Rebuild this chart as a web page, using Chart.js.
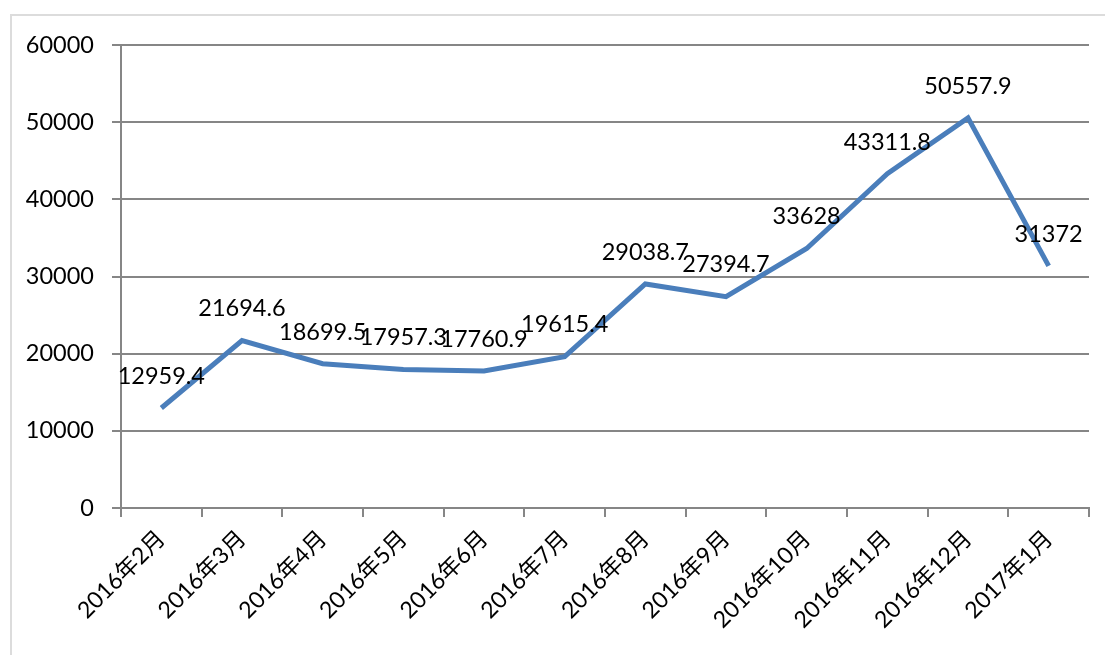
<!DOCTYPE html>
<html>
<head>
<meta charset="utf-8">
<script src="https://cdn.jsdelivr.net/npm/chart.js@4"></script>
<style>
  html, body { margin: 0; padding: 0; background: #fff; overflow: hidden; }
  #wrap { position: relative; width: 1105px; height: 655px; }
  #frame { position: absolute; left: 10px; top: 14px; width: 1120px; height: 700px; border: 2px solid #dcdcdc; }
</style>
</head>
<body>
<div id="wrap">
  <div id="frame"></div>
  <canvas id="myChart" width="1105" height="655" style="position:absolute;left:0;top:0"></canvas>
</div>
<script>
const months = ['2016年2月', '2016年3月', '2016年4月', '2016年5月', '2016年6月', '2016年7月',
                '2016年8月', '2016年9月', '2016年10月', '2016年11月', '2016年12月', '2017年1月'];
const values = [12959.4, 21694.6, 18699.5, 17957.3, 17760.9, 19615.4,
                29038.7, 27394.7, 33628, 43311.8, 50557.9, 31372];
const yTicks = [0, 10000, 20000, 30000, 40000, 50000, 60000];

const fontFam = 'Lato, "Noto Sans CJK SC", sans-serif';

// labels drawn above each point
const pointLabels = {
    id: 'pointLabels',
    afterDatasetsDraw(chart) {
        const ctx = chart.ctx;
        const meta = chart.getDatasetMeta(0);
        ctx.save();
        ctx.font = '23.5px ' + fontFam;
        ctx.fillStyle = '#000';
        ctx.textAlign = 'center';
        ctx.textBaseline = 'bottom';
        meta.data.forEach((pt, i) => {
            ctx.fillText(String(values[i]), pt.x, pt.y - 20);
        });
        ctx.restore();
    }
};

const ctx = document.getElementById('myChart').getContext('2d');
new Chart(ctx, {
    type: 'line',
    data: {
        labels: months,
        datasets: [{
            data: values,
            borderColor: '#4a7ebb',
            borderWidth: 5,
            pointRadius: 0,
            tension: 0,
            fill: false
        }]
    },
    options: {
        responsive: false,
        animation: false,
        layout: { padding: { top: 45, right: 16, left: 0, bottom: 0 } },
        plugins: { legend: { display: false }, tooltip: { enabled: false } },
        scales: {
            x: {
                offset: true,
                grid: { offset: true, drawOnChartArea: false, drawTicks: true, tickLength: 9, color: '#868686', lineWidth: 2 },
                border: { color: '#868686', width: 2 },
                ticks: { minRotation: 45, maxRotation: 45, autoSkip: false, color: '#000', font: { size: 23, family: fontFam }, padding: 8 },
                afterFit(axis) { axis.height = 147; }
            },
            y: {
                min: 0,
                max: 60000,
                afterBuildTicks(axis) { axis.ticks = yTicks.map(v => ({ value: v })); },
                grid: { color: '#868686', lineWidth: 2, tickLength: 9 },
                border: { color: '#868686', width: 2 },
                ticks: { color: '#000', font: { size: 23.5, family: fontFam }, padding: 18, callback: v => String(v) },
                afterFit(axis) { axis.width = 121; }
            }
        }
    },
    plugins: [pointLabels]
});
</script>
</body>
</html>
